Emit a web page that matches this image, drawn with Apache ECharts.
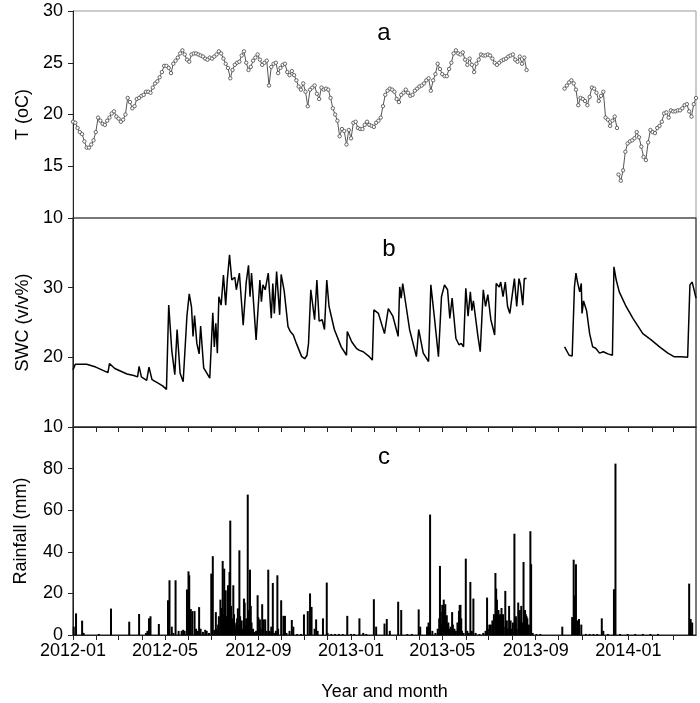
<!DOCTYPE html>
<html><head><meta charset="utf-8">
<script src="https://cdn.jsdelivr.net/npm/echarts@6/dist/echarts.min.js"></script>
<style>html,body{margin:0;padding:0;background:#fff}#c{width:700px;height:703px}</style>
</head><body><div id="c"></div>
<script>
// ---------- DATA ----------
// day offsets are counted from 2012-01-01
const baseDate = [2012, 0, 1];
const axisEndDay = 820; // 2014-03-31
const xTickLabels = ['2012-01','2012-05','2012-09','2013-01','2013-05','2013-09','2014-01'];

// Temperature (oC), one reading every 3 days in each segment
const tempStep = 3;
const tempSeg1Start = 0;
const tempSeg1 = [
19.3,19.2,18.7,18.3,18.1,17.4,16.8,16.8,17.1,17.5,
18.3,19.7,19.4,19.1,19.0,19.4,19.7,20.1,20.3,19.8,
19.6,19.3,19.5,20.0,21.6,21.2,20.6,20.8,21.5,21.6,
21.8,21.9,22.2,22.2,22.1,22.6,23.0,23.2,23.6,24.1,
24.7,24.7,24.5,24.0,24.9,25.2,25.5,25.9,26.2,25.8,
25.3,25.1,25.8,25.9,25.9,25.8,25.7,25.6,25.4,25.3,
25.5,25.4,25.6,25.8,26.1,25.9,25.4,24.9,24.5,23.5,
24.3,24.8,25.0,25.1,25.7,26.1,25.0,24.3,24.6,25.2,
25.5,25.8,25.3,24.8,25.0,25.2,22.8,24.6,24.9,25.0,
24.0,24.5,24.8,24.9,24.1,23.8,24.2,23.8,23.3,22.7,
22.4,23.0,22.2,20.8,22.4,22.6,22.8,22.0,21.5,22.6,
22.4,22.5,22.4,21.6,20.6,20.0,19.4,17.9,18.6,18.4,
17.1,18.5,17.7,19.2,19.3,18.7,18.6,18.6,19.0,19.3,
19.0,18.9,18.8,19.2,19.4,19.7,20.8,21.9,22.3,22.5,
22.4,22.2,21.5,21.2,21.9,22.1,22.4,22.1,21.8,21.9,
22.3,22.5,22.7,22.8,23.0,23.3,23.5,22.3,23.3,23.9,
24.9,24.4,23.9,23.7,23.7,24.4,25.0,25.9,26.2,25.9,
25.8,26.0,25.3,24.8,25.4,24.8,24.1,24.9,25.3,25.8,
25.7,25.7,25.8,25.7,25.4,25.0,24.8,25.0,25.2,25.3,
25.4,25.6,25.7,25.8,25.3,25.1,25.6,24.9,25.5,24.3];
const tempSeg2Start = 647;
const tempSeg2 = [22.5,22.8,23.1,23.3,23.0,22.4,20.9,21.6,21.5,21.3,20.9,21.7,
22.6,22.5,22.1,21.3,21.8,22.2,19.7,19.5,18.9,19.4,19.8,18.7];
const tempSeg3Start = 718;
const tempSeg3 = [14.2,13.6,14.6,16.4,17.2,17.4,17.5,17.7,18.3,17.8,16.9,15.9,15.6,
17.3,18.5,18.3,18.2,18.7,18.9,19.3,20.1,20.2,19.7,20.4,20.3,20.3,20.4,20.4,
20.6,20.9,21.0,20.3,19.8,21.0,21.6];

// Soil water content (v/v%), null = missing record
const swcDays = [0,3,8,18,30,46,48,55,71,80,85,87,90,97,100,104,112,118,123,126,130,134,137,141,145,
150,153,156,158,160,163,166,168,172,180,184,186,188,190,192,195,198,201,203,206,209,213,215,219,224,
228,231,233,235,241,246,248,250,253,257,261,263,265,268,272,274,278,283,286,290,294,301,305,308,310,
313,318,321,324,328,331,334,337,344,353,360,361,367,373,377,382,390,394,396,402,410,412,415,421,428,
430,432,434,443,452,455,461,468,471,476,481,485,489,493,496,499,504,508,511,514,517,520,523,525,527,
533,536,540,543,546,550,555,557,561,563,566,569,572,575,577,579,581,584,587,589,592,594,597,
620,
647,653,657,660,662,664,667,669,670,672,676,680,684,688,693,698,704,710,712,715,719,728,737,750,761,
772,783,791,800,809,812,815,820];
const swcValues = [18.2,19.0,19.0,19.0,18.6,17.8,19.1,18.4,17.6,17.4,17.2,18.7,17.2,16.7,18.6,16.8,16.3,15.9,15.4,27.5,21.0,17.5,24.0,17.7,16.5,
26.0,29.1,27.2,23.0,26.0,22.0,20.5,24.5,18.5,17.0,26.4,21.5,24.9,20.6,28.7,27.5,31.8,27.5,31.0,34.7,31.1,31.5,29.7,32.1,24.6,
30.8,33.2,28.7,32.1,22.5,31.1,28.0,30.4,29.7,32.1,25.6,30.6,26.3,32.3,26.1,31.9,29.5,24.4,23.7,23.2,22.0,20.1,19.8,20.3,22.0,
29.7,25.4,31.1,25.2,25.4,24.0,31.1,27.3,24.0,21.5,20.3,23.7,22.2,21.3,21.0,20.8,20.1,19.6,26.8,26.3,23.4,23.4,27.0,25.9,23.0,
30.1,28.5,30.6,24.0,20.1,24.0,20.6,19.4,30.4,25.4,20.1,28.7,30.4,29.7,25.6,28.5,22.7,21.8,22.0,21.5,29.9,25.9,29.4,26.7,28.1,
23.0,20.8,29.7,27.3,29.0,25.4,23.2,30.6,30.1,30.8,28.7,30.8,27.3,26.3,28.0,28.0,31.3,27.3,31.3,30.4,27.5,31.3,31.3,
null,
21.5,20.3,20.2,30.1,32.1,30.8,29.4,30.6,26.3,28.1,26.7,23.4,21.5,21.3,20.6,20.8,20.5,20.3,33.0,31.1,29.4,27.3,25.6,23.4,22.5,
21.5,20.6,20.1,20.1,20.0,30.4,30.8,28.5];

// Daily rainfall (mm)
const rainDays = [1,4,12,14,34,50,74,87,96,98,100,102,113,125,127,130,132,135,139,143,145,147,150,152,153,155,157,160,162,164,
166,168,171,174,176,179,182,184,186,188,189,191,192,194,195,196,197,198,199,200,201,202,203,204,205,206,207,208,209,210,
211,212,213,214,215,216,217,218,219,220,221,222,223,225,226,227,228,229,230,231,232,233,234,235,237,239,241,243,244,246,
247,249,251,253,255,257,259,261,263,265,267,269,270,274,277,279,281,285,288,290,295,300,304,309,312,314,318,320,322,329,
334,335,340,345,350,355,361,366,370,377,382,386,396,399,410,413,417,428,432,440,446,455,457,466,468,470,473,477,480,482,
483,484,485,486,487,488,489,490,491,492,493,494,495,497,499,500,502,504,506,508,509,510,511,512,514,517,519,521,523,525,
527,530,535,540,543,545,546,548,550,552,553,554,556,557,558,559,560,561,562,564,565,566,567,569,570,571,572,574,575,576,
577,579,581,582,583,584,586,587,588,589,590,591,593,594,595,596,597,598,600,602,603,605,610,615,644,657,659,660,662,664,
666,669,675,680,685,690,696,698,704,712,714,720,730,740,750,760,770,811,813,815];
const rainValues = [4,10.4,6.9,1,0.5,12.7,6.4,10.1,1,2,8,9,5.3,16.7,26.3,4,1,26.3,2,2,2.5,2,21.9,30.6,28.7,12.5,11.5,11.5,3,2,
13.4,3,1.5,2.5,2,1,29.5,37.9,2.5,11,3,5,9,17,13,8,35.6,10,31.9,12,21.5,9,7,23.9,10,30.3,55,14,5,8,
23.9,10,5,3,6,8,12.8,4,40.7,9,6,7,3,17.5,15.6,5,8,6,67.5,12,8,31.4,14,6,3,1.5,2,19.1,8.5,7.5,
3,14.8,7.5,7.5,2,31.4,2,4,25,1,2,28.7,3,16.7,9.2,9.2,1,2,7.2,4,0.5,0.5,9.9,11.5,20,13.5,3,7.5,2,8,
25.2,1,0.5,0.5,0.5,0.5,9.2,0.5,0.5,8,1,0.5,17.2,4,5.5,7.7,2,16,12,0.5,0.5,12.3,4,4,6,57.9,2,1,3,8,
33.2,11,5,14.5,9,17,12,14.8,7,9.5,5,6,3,4,11,5,3,2,6,11.6,14.4,14.5,8,2,1,36.7,2,1,25.5,2,
17.5,1,0.5,1,2,18,3,5,5,7,4,10,29.8,22.3,17,8,12,6,10,13,5,10,4,21.2,5,7,3,14,4,7,
3,6,48.7,5,9,3,15.6,8,12,7,14,6,35.1,11.5,12,10,9,8,5,49.9,34,1,0.5,0.5,4,8.6,36.2,19,34,7,
7.7,5,0.5,0.5,0.5,0.5,8,2,0.5,22,82.4,0.5,0.5,0.5,0.5,0.5,0.5,24.7,7.7,6];

// ---------- BUILD ----------
const DAY = 86400000;
const BASE = Date.UTC(baseDate[0], baseDate[1], baseDate[2]);
const t = d => BASE + d * DAY;

function seg(start, vals) { return vals.map((v, i) => [t(start + i * tempStep), v]); }
const tempData = [].concat(
  seg(tempSeg1Start, tempSeg1), [[t(620), '-']],
  seg(tempSeg2Start, tempSeg2), [[t(717), '-']],
  seg(tempSeg3Start, tempSeg3));
const swcData = swcDays.map((d, i) => [t(d), swcValues[i] === null ? '-' : swcValues[i]]);
const rainData = rainDays.map((d, i) => [t(d), rainValues[i]]);

const monthTicks = [];
for (let y = 2012; y <= 2014; y++) for (let m = 0; m < 12; m++) {
  const v = Date.UTC(y, m, 1);
  if (v <= t(axisEndDay)) monthTicks.push(v);
}
const labelTicks = xTickLabels.map(s => Date.UTC(+s.slice(0, 4), +s.slice(5, 7) - 1, 1));

const FONT = 'Liberation Sans';
const FS = 18;
const xMin = t(0), xMax = t(axisEndDay);
const L = 73, R = 4;

function xAx(i, ticks, labels) {
  return {
    type: 'value', gridIndex: i, min: xMin, max: xMax, scale: true,
    axisLine: { show: ticks, onZero: false, lineStyle: { color: '#222', width: 1.2 } },
    axisTick: ticks ? { show: true, customValues: monthTicks, length: 5, inside: false, lineStyle: { color: '#222', width: 1 } } : { show: false },
    axisLabel: labels ? {
      show: true, customValues: labelTicks, fontSize: FS, color: '#000', fontFamily: FONT, margin: 7,
      formatter: v => { const d = new Date(v); return d.getUTCFullYear() + '-' + String(d.getUTCMonth() + 1).padStart(2, '0'); }
    } : { show: false },
    splitLine: { show: false }
  };
}
function yAx(i, min, max, interval, name, gap, hideMax) {
  return {
    type: 'value', gridIndex: i, min, max, interval,
    name, nameLocation: 'middle', nameGap: gap, nameRotate: 90,
    nameTextStyle: { fontSize: FS, color: '#000', fontFamily: FONT },
    axisLine: { show: true, lineStyle: { color: '#222', width: 1 } },
    axisTick: { show: true, length: 5, inside: false, lineStyle: { color: '#222' } },
    axisLabel: { fontSize: FS, color: '#000', fontFamily: FONT, margin: 10, showMaxLabel: !hideMax },
    splitLine: { show: false }
  };
}

const chart = echarts.init(document.getElementById('c'));
const xName = xAx(2, true, true);
Object.assign(xName, { name: 'Year and month', nameLocation: 'middle', nameGap: 48,
  nameTextStyle: { fontSize: FS, color: '#000', fontFamily: FONT } });

chart.setOption({
  animation: false,
  backgroundColor: '#fff',
  grid: [
    { left: L, right: R, top: 11, height: 207, show: true, borderColor: '#999', borderWidth: 1 },
    { left: L, right: R, top: 218, height: 209, show: true, borderColor: '#222', borderWidth: 1.2 },
    { left: L, right: R, top: 427, height: 208, show: true, borderColor: '#222', borderWidth: 1.2 }
  ],
  xAxis: [xAx(0, false, false), xAx(1, true, false), xName],
  yAxis: [
    yAx(0, 10, 30, 5, 'T (oC)', 41, false),
    yAx(1, 10, 40, 10, 'SWC (v/v%)', 41, true),
    yAx(2, 0, 100, 20, 'Rainfall (mm)', 43, true)
  ],
  graphic: [
    { type: 'text', x: 384, y: 33, style: { text: 'a', fontSize: 24, fontFamily: FONT, fill: '#000', align: 'center', verticalAlign: 'middle' } },
    { type: 'text', x: 389, y: 249, style: { text: 'b', fontSize: 24, fontFamily: FONT, fill: '#000', align: 'center', verticalAlign: 'middle' } },
    { type: 'text', x: 384, y: 457, style: { text: 'c', fontSize: 24, fontFamily: FONT, fill: '#000', align: 'center', verticalAlign: 'middle' } }
  ],
  series: [
    { type: 'line', xAxisIndex: 0, yAxisIndex: 0, data: tempData, connectNulls: false,
      symbol: 'circle', symbolSize: 3.4, showAllSymbol: true,
      itemStyle: { color: '#fff', borderColor: '#555', borderWidth: 0.9 },
      lineStyle: { color: '#555', width: 1 } },
    { type: 'line', xAxisIndex: 1, yAxisIndex: 1, data: swcData, connectNulls: false,
      showSymbol: false, lineStyle: { color: '#000', width: 1.5 } },
    { type: 'bar', xAxisIndex: 2, yAxisIndex: 2, data: rainData, barWidth: 2,
      itemStyle: { color: '#000' } }
  ]
});
</script></body></html>
